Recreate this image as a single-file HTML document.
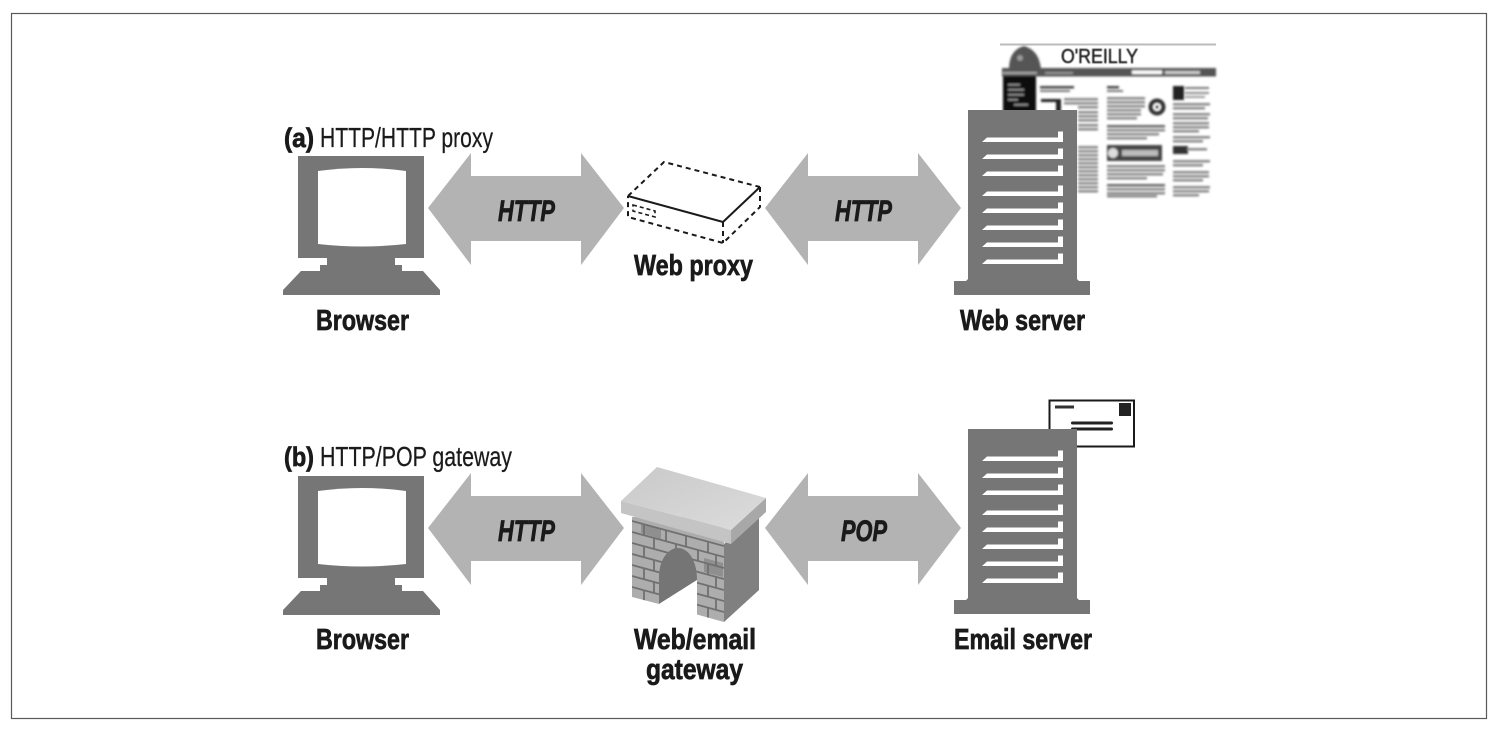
<!DOCTYPE html>
<html><head><meta charset="utf-8"><style>
html,body{margin:0;padding:0;background:#fff}
svg{display:block}
text{font-family:"Liberation Sans Narrow","Liberation Sans",sans-serif;fill:#1a1a1a}
.b{font-weight:bold;font-size:28.500px;stroke:#1a1a1a;stroke-width:.7px}
.i{font-weight:bold;font-style:italic;font-size:30px;stroke:#1a1a1a;stroke-width:.8px}
.r{font-size:27.500px;stroke:#1a1a1a;stroke-width:.25px}
</style></head><body>
<svg xmlns="http://www.w3.org/2000/svg" width="1498" height="730" viewBox="0 0 1498 730">
<defs>
<filter id="bl" x="-5%" y="-5%" width="110%" height="110%"><feGaussianBlur stdDeviation="1.100"/></filter>
<filter id="bl2" x="-5%" y="-5%" width="110%" height="110%"><feGaussianBlur stdDeviation="0.500"/></filter>
<linearGradient id="roof" x1="0" y1="0" x2="1" y2="1"><stop offset="0" stop-color="#c9c9c9"/><stop offset="1" stop-color="#dcdcdc"/></linearGradient>
<g id="mon">
<path fill="#767676" d="M298 156H424V258H395V265H402V271H423L440 290V295H283V290L301 271H320V265H327V258H298Z"/>
<path fill="#fff" d="M318 171Q362 165 406 171V244Q362 249 318 244Z"/>
</g>
<g id="srv">
<path fill="#767676" d="M968 110H1077V279L1079 281H1090V295H954V281H966L968 279Z"/>
<g id="slots" fill="#fff">
<path d="M982 142L987 137.500H1058V131.500H1063V142Z"/>
<path d="M982 159L987 154.500H1058V148.500H1063V159Z"/>
<path d="M982 176L987 171.500H1058V165.500H1063V176Z"/>
<path d="M982 196L987 191.500H1058V185.500H1063V196Z"/>
<path d="M982 213L987 208.500H1058V202.500H1063V213Z"/>
<path d="M982 230L987 225.500H1058V219.500H1063V230Z"/>
<path d="M982 247L987 242.500H1058V236.500H1063V247Z"/>
<path d="M982 264L987 259.500H1058V253.500H1063V264Z"/>
</g>
</g>
<path id="a1" fill="#b3b3b3" d="M428 208L471 153V176H581V153L624 208L581 265V241H471V265Z"/>
<path id="a2" fill="#b3b3b3" d="M765 208L808 153V176H918V153L961 208L918 265V241H808V265Z"/>
<clipPath id="wall"><path d="M632 517H724V622L659 604L632 597Z"/></clipPath>
</defs>
<rect width="1498" height="730" fill="#fff"/>
<rect x="11.500" y="13.500" width="1475" height="705" fill="none" stroke="#5a5a5a" stroke-width="1.200"/>

<!-- web page screenshot -->
<g>
<rect x="1000" y="44" width="216" height="154" fill="#fff"/>
<rect x="1000" y="43.500" width="216" height="2" fill="#bbb"/>
<g filter="url(#bl)">
<path fill="#555" d="M1009 69Q1009 50 1024 46Q1039 50 1041 69Z"/>
<circle cx="1020" cy="58" r="3" fill="#999"/>
<rect x="1002" y="68" width="214" height="8.500" fill="#555"/>
<rect x="1003" y="72" width="34" height="2" fill="#aaa"/>
<rect x="1045" y="72" width="28" height="2" fill="#999"/>
<rect x="1132" y="70.500" width="30" height="3.500" fill="#fff"/>
<rect x="1165" y="71" width="35" height="3" fill="#ccc"/>
<rect x="1003" y="76" width="33" height="36" fill="#0d0d0d"/>
<rect x="1008" y="84" width="12" height="1.500" fill="#999"/>
<rect x="1008" y="89" width="16" height="1.500" fill="#999"/>
<rect x="1008" y="94" width="16" height="1.500" fill="#999"/>
<rect x="1008" y="99" width="10" height="1.500" fill="#999"/>
<rect x="1014" y="104" width="14" height="1.500" fill="#999"/>
<rect x="1040" y="86" width="34" height="2.500" fill="#444"/>
<rect x="1040" y="90" width="30" height="2" fill="#777"/>
<rect x="1107" y="86" width="12" height="2.500" fill="#444"/>
<rect x="1107" y="90" width="16" height="2" fill="#777"/>
<rect x="1173" y="86" width="11" height="14" fill="#222"/>
<rect x="1185" y="87" width="24" height="2" fill="#777"/>
<rect x="1185" y="92" width="24" height="2" fill="#888"/>
<rect x="1185" y="96" width="20" height="2" fill="#999"/>
<rect x="1041" y="99" width="20" height="3" fill="#222"/>
<rect x="1056" y="99" width="5" height="14" fill="#222"/>
<circle cx="1157" cy="107" r="6.500" fill="none" stroke="#333" stroke-width="4"/>
<circle cx="1157" cy="107" r="1.500" fill="#333"/>
<rect x="1107" y="145" width="55" height="16" fill="#444"/>
<rect x="1122" y="150" width="36" height="6" fill="#bbb"/>
<circle cx="1113" cy="153" r="5" fill="#ddd"/>
<rect x="1173" y="146" width="15" height="8" fill="#333"/>
<g fill="#888">
<rect x="1064" y="98" width="34" height="2.500"/><rect x="1064" y="102" width="34" height="2.500"/><rect x="1078" y="106" width="20" height="2.500"/>
<rect x="1078" y="111" width="20" height="2.500"/><rect x="1078" y="115" width="20" height="2.500"/><rect x="1078" y="119" width="20" height="2.500"/>
<rect x="1078" y="124" width="20" height="2.500"/><rect x="1078" y="128" width="20" height="2.500"/>
<rect x="1078" y="146" width="20" height="2.500"/><rect x="1078" y="150" width="20" height="2.500"/><rect x="1078" y="154" width="20" height="2.500"/>
<rect x="1078" y="158" width="20" height="2.500"/><rect x="1078" y="162" width="20" height="2.500"/><rect x="1078" y="166" width="20" height="2.500"/>
<rect x="1078" y="170" width="20" height="2.500"/><rect x="1078" y="174" width="20" height="2.500"/><rect x="1078" y="178" width="20" height="2.500"/>
<rect x="1078" y="182" width="20" height="2.500"/><rect x="1078" y="186" width="20" height="2.500"/><rect x="1078" y="190" width="20" height="2.500"/>
<rect x="1107" y="97" width="38" height="2.500"/><rect x="1107" y="101" width="38" height="2.500"/><rect x="1107" y="105" width="38" height="2.500"/>
<rect x="1107" y="109" width="34" height="2.500"/><rect x="1107" y="113" width="34" height="2.500"/><rect x="1107" y="117" width="30" height="2.500"/>
<rect x="1107" y="125" width="58" height="2.500" fill="#666"/><rect x="1107" y="129" width="58" height="2.500"/><rect x="1107" y="133" width="52" height="2.500"/><rect x="1107" y="137" width="40" height="2.500"/>
<rect x="1107" y="165" width="58" height="2.500"/><rect x="1107" y="169" width="58" height="2.500"/><rect x="1107" y="173" width="56" height="2.500"/><rect x="1107" y="177" width="40" height="2.500"/>
<rect x="1107" y="184" width="58" height="2.500" fill="#666"/><rect x="1107" y="188" width="58" height="2.500"/><rect x="1107" y="192" width="58" height="2.500"/><rect x="1107" y="195" width="50" height="2.500"/>
<rect x="1173" y="103" width="37" height="2.500"/><rect x="1173" y="107" width="32" height="2.500"/><rect x="1173" y="113" width="37" height="2.500"/><rect x="1173" y="117" width="35" height="2.500"/>
<rect x="1173" y="122" width="36" height="2.500"/><rect x="1173" y="126" width="36" height="2.500"/><rect x="1173" y="130" width="26" height="2.500"/>
<rect x="1173" y="136" width="37" height="2.500"/><rect x="1173" y="140" width="30" height="2.500"/>
<rect x="1187" y="148" width="20" height="2.500"/><rect x="1173" y="160" width="37" height="2.500"/><rect x="1173" y="164" width="30" height="2.500"/>
<rect x="1173" y="171" width="36" height="2.500"/><rect x="1173" y="175" width="36" height="2.500"/><rect x="1173" y="179" width="30" height="2.500"/>
<rect x="1173" y="186" width="37" height="2.500"/><rect x="1173" y="190" width="36" height="2.500"/><rect x="1173" y="194" width="26" height="2.500"/>
</g>
</g>
<text x="1061" y="63" style="font-size:20px;fill:#222;stroke:#222;stroke-width:.5px" textLength="77" lengthAdjust="spacingAndGlyphs" filter="url(#bl2)">O'REILLY</text>
</g>

<!-- envelope -->
<rect x="1049.500" y="400.500" width="84.500" height="46" fill="#fff" stroke="#1a1a1a" stroke-width="2"/>
<rect x="1055" y="405.500" width="19" height="3" fill="#333"/>
<rect x="1119" y="403" width="12" height="13" fill="#222"/>
<rect x="1071" y="421.500" width="42" height="3" rx="1.500" fill="#222"/>
<rect x="1071" y="427.500" width="42" height="3" rx="1.500" fill="#222"/>

<use href="#mon"/>
<use href="#mon" y="320"/>
<use href="#srv"/>
<use href="#srv" y="319"/>
<use href="#a1"/><use href="#a2"/>
<use href="#a1" y="320"/><use href="#a2" y="320"/>

<!-- proxy -->
<g fill="none" stroke="#1a1a1a" stroke-width="2">
<path stroke-dasharray="5 4" d="M628 196L664 162L760 187M760 187V207L723 243L628 217V196M723 222V243"/>
<path d="M628 196L723 222L760 187"/>
<path stroke-dasharray="4 3" stroke-width="1.600" d="M633 205L655 211V217L633 211Z"/>
</g>

<!-- gateway -->
<path fill="#adadad" d="M632 517H724V622L659 604L632 597Z"/>
<g clip-path="url(#wall)">
<path fill="#8f8f8f" d="M641 523L661 529V539L641 533ZM704 558L723 563V577L704 572Z"/>
<g fill="none" stroke="#707070" stroke-width="1.800">
<path d="M632 521L724 546M632 532L724 557M632 543L724 568M632 554L724 579M632 565L724 590M632 576L724 601M632 587L724 612"/>
<path d="M644 524v11M666 530v11M686 536v11M708 542v11M654 538v11M676 544v11M698 550v11M716 555v11M644 546v11M708 564v11M654 560v11M716 577v11M644 568v11M708 586v11M654 582v11M716 599v11M644 590v11M708 607v11"/>
</g>
</g>
<path fill="#808080" d="M724 544L759 512V590L724 622Z"/>
<path fill="#757575" d="M659 604V577C659 560 668 548 678 548C688 548 697 560 697 580Z"/>
<path fill="#fff" d="M659 604L697 580V616Z"/>
<path fill="url(#roof)" d="M657 467L766 498L731 530L621 501Z"/>
<path fill="#c4c4c4" d="M621 501L731 530V544L621 513Z"/>
<path fill="#a8a8a8" d="M731 530L766 498V512L731 544Z"/>

<!-- labels -->
<text class="b" x="284" y="147" style="font-size:27px" textLength="30" lengthAdjust="spacingAndGlyphs">(a)</text>
<text class="r" x="320" y="147" textLength="173" lengthAdjust="spacingAndGlyphs">HTTP/HTTP proxy</text>
<text class="b" x="284" y="466" style="font-size:27px" textLength="30" lengthAdjust="spacingAndGlyphs">(b)</text>
<text class="r" x="320" y="466" textLength="192" lengthAdjust="spacingAndGlyphs">HTTP/POP gateway</text>

<text class="i" x="498" y="221" textLength="57" lengthAdjust="spacingAndGlyphs">HTTP</text>
<text class="i" x="835" y="221" textLength="57" lengthAdjust="spacingAndGlyphs">HTTP</text>
<text class="i" x="498" y="541" textLength="57" lengthAdjust="spacingAndGlyphs">HTTP</text>
<text class="i" x="841" y="541" textLength="46" lengthAdjust="spacingAndGlyphs">POP</text>

<text class="b" x="316" y="330" textLength="93" lengthAdjust="spacingAndGlyphs">Browser</text>
<text class="b" x="634" y="275" textLength="119" lengthAdjust="spacingAndGlyphs">Web proxy</text>
<text class="b" x="960" y="330" textLength="125" lengthAdjust="spacingAndGlyphs">Web server</text>
<text class="b" x="316" y="649" textLength="93" lengthAdjust="spacingAndGlyphs">Browser</text>
<text class="b" x="634" y="649" textLength="122" lengthAdjust="spacingAndGlyphs">Web/email</text>
<text class="b" x="646" y="679" textLength="97" lengthAdjust="spacingAndGlyphs">gateway</text>
<text class="b" x="954" y="649" textLength="138" lengthAdjust="spacingAndGlyphs">Email server</text>
</svg>
</body></html>
